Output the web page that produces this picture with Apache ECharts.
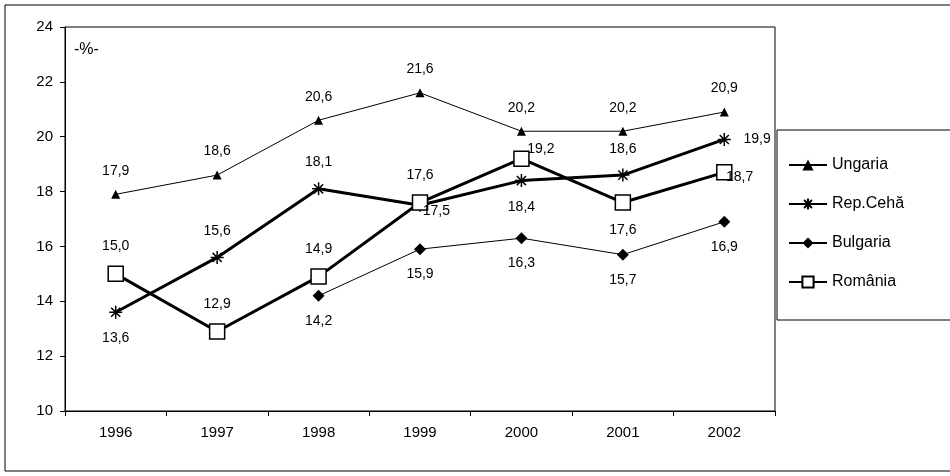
<!DOCTYPE html>
<html><head><meta charset="utf-8">
<script src="https://cdn.jsdelivr.net/npm/echarts@6/dist/echarts.min.js"></script>
<style>html,body{margin:0;background:#fff}#c{width:950px;height:476px}</style>
</head><body><div id="c"></div>
<script>
const years = ['1996', '1997', '1998', '1999', '2000', '2001', '2002'];
const ungaria = [17.9, 18.6, 20.6, 21.6, 20.2, 20.2, 20.9];
const ceha = [13.6, 15.6, 18.1, 17.5, 18.4, 18.6, 19.9];
const bulgaria = [null, null, 14.2, 15.9, 16.3, 15.7, 16.9];
const romania = [15.0, 12.9, 14.9, 17.6, 19.2, 17.6, 18.7];
const cehaPos = ['bottom', 'top', 'top', 'insideBottomLeft', 'bottom', 'top', 'right'];
const romPos = ['top', 'top', 'top', 'top', 'insideTopLeft', 'bottom', 'insideBottomLeft'];

const star = 'path://M0,-10L0,10M-10,0L10,0M-7,-7L7,7M-7,7L7,-7';
const fmt = p => p.value == null ? '' : p.value.toFixed(1).replace('.', ',');
const lbl = {show: true, color: '#000', fontSize: 14, fontFamily: 'Liberation Sans', formatter: fmt};

function pts(arr, pos) {
    return arr.map((v, i) => {
        const p = pos[i];
        let l = {position: p};
        if (p === 'insideBottomLeft') l = {position: [10, 6]};
        if (p === 'insideTopLeft') l = {position: [14, -8]};
        return {value: v, label: l};
    });
}

const chart = echarts.init(document.getElementById('c'));
chart.setOption({
    animation: false,
    textStyle: {fontFamily: 'Liberation Sans'},
    graphic: [
        {type: 'rect', shape: {x: 5, y: 5, width: 950, height: 466}, style: {fill: 'none', stroke: '#000', lineWidth: 1}},
        {type: 'rect', shape: {x: 777, y: 130, width: 180, height: 190}, style: {fill: '#fff', stroke: '#000', lineWidth: 1}},
        {type: 'text', left: 74, top: 42, style: {text: '-%-', fontSize: 16, fill: '#000', fontFamily: 'Liberation Sans'}}
    ],
    legend: {
        orient: 'vertical', left: 783, top: 152, itemGap: 23, itemWidth: 38, itemHeight: 14,
        textStyle: {fontSize: 16, color: '#000'},
        data: ['Ungaria', 'Rep.Cehă', 'Bulgaria', 'România']
    },
    grid: {left: 65, right: 175, top: 27, bottom: 65, show: true, borderColor: '#000', borderWidth: 1},
    xAxis: {
        type: 'category', data: years, boundaryGap: true,
        axisLine: {lineStyle: {color: '#000'}}, axisTick: {show: true, lineStyle: {color: '#000'}},
        axisLabel: {color: '#000', fontSize: 15, margin: 14}
    },
    yAxis: {
        type: 'value', min: 10, max: 24, interval: 2, splitLine: {show: false},
        axisLine: {show: true, lineStyle: {color: '#000'}}, axisTick: {show: true, lineStyle: {color: '#000'}},
        axisLabel: {color: '#000', fontSize: 15, margin: 12}
    },
    series: [
        {name: 'Ungaria', type: 'line', data: ungaria, symbol: 'triangle', symbolSize: 9,
         lineStyle: {color: '#000', width: 1}, itemStyle: {color: '#000'},
         label: Object.assign({}, lbl, {position: 'top', distance: 12})},
        {name: 'Rep.Cehă', type: 'line', data: pts(ceha, cehaPos), symbol: star, symbolSize: 13,
         lineStyle: {color: '#000', width: 3}, itemStyle: {color: '#000', borderColor: '#000', borderWidth: 1.5},
         label: Object.assign({}, lbl, {distance: 12})},
        {name: 'Bulgaria', type: 'line', data: bulgaria, symbol: 'diamond', symbolSize: 12,
         lineStyle: {color: '#000', width: 1}, itemStyle: {color: '#000'},
         label: Object.assign({}, lbl, {position: 'bottom', distance: 12})},
        {name: 'România', type: 'line', data: pts(romania, romPos), symbol: 'rect', symbolSize: 15,
         lineStyle: {color: '#000', width: 3}, itemStyle: {color: '#fff', borderColor: '#000', borderWidth: 1.5},
         label: Object.assign({}, lbl, {distance: 12})}
    ]
});
</script></body></html>
